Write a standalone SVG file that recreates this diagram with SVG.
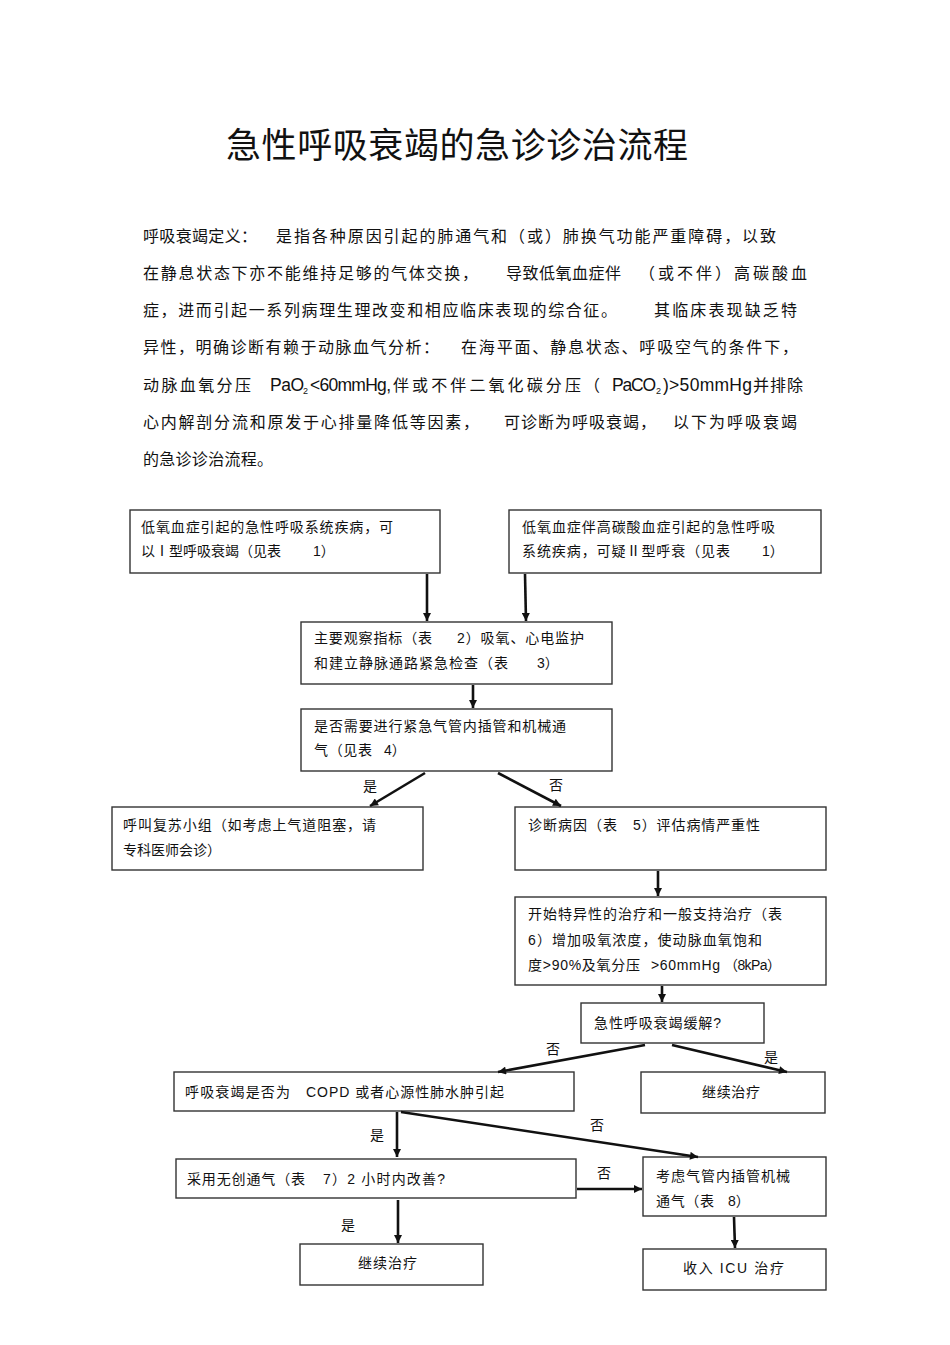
<svg xmlns="http://www.w3.org/2000/svg" width="950" height="1345" viewBox="0 0 950 1345">
<defs>
<marker id="ah" viewBox="0 0 10 10" refX="10" refY="5" markerWidth="9" markerHeight="8" markerUnits="userSpaceOnUse" orient="auto">
<path d="M0,0 L10,5 L0,10 z" fill="#111"/>
</marker>
</defs>
<style>
text{font-family:"Liberation Sans","Noto Sans CJK SC",sans-serif;fill:#111;}
.t{font-size:35px;}
.p{font-size:16px;}
.pl{font-size:17.5px;}
.b{font-size:14px;}
.lbl{font-size:14px;}
.sub{font-size:9px;}
rect{fill:#fff;stroke:#333;stroke-width:1.4;}
.c line{stroke:#111;stroke-width:2.6;marker-end:url(#ah);}
</style>
<rect x="0" y="0" width="950" height="1345" style="stroke:none;fill:#fff"/>
<g id="title"><text class="t" x="226" y="158" textLength="462">急性呼吸衰竭的急诊诊治流程</text></g>
<g id="definition">
<text class="p" x="143" y="242" textLength="114">呼吸衰竭定义：</text>
<text class="p" x="276" y="242" textLength="500">是指各种原因引起的肺通气和（或）肺换气功能严重障碍，以致</text>
<text class="p" x="143" y="279" textLength="335">在静息状态下亦不能维持足够的气体交换，</text>
<text class="p" x="506" y="279" textLength="115">导致低氧血症伴</text>
<text class="p" x="639" y="279" textLength="168">（或不伴）高碳酸血</text>
<text class="p" x="143" y="316" textLength="474">症，进而引起一系列病理生理改变和相应临床表现的综合征。</text>
<text class="p" x="654" y="316" textLength="143">其临床表现缺乏特</text>
<text class="p" x="143" y="353" textLength="296">异性，明确诊断有赖于动脉血气分析：</text>
<text class="p" x="461" y="353" textLength="337">在海平面、静息状态、呼吸空气的条件下，</text>
<text class="p" x="143" y="391" textLength="108">动脉血氧分压</text>
<text class="pl" x="270" y="391" textLength="34">PaO</text><text class="sub" x="303" y="394">2</text>
<text class="pl" x="310" y="391" textLength="81">&lt;60mmHg,</text>
<text class="p" x="393" y="391" textLength="207">伴或不伴二氧化碳分压（</text>
<text class="pl" x="612" y="391" textLength="44">PaCO</text><text class="sub" x="656" y="394">2</text>
<text class="pl" x="663" y="391" textLength="89">)&gt;50mmHg</text>
<text class="p" x="753" y="391" textLength="50">并排除</text>
<text class="p" x="143" y="428" textLength="336">心内解剖分流和原发于心排量降低等因素，</text>
<text class="p" x="504" y="428" textLength="152">可诊断为呼吸衰竭，</text>
<text class="p" x="673" y="428" textLength="124">以下为呼吸衰竭</text>
<text class="p" x="143" y="465" textLength="130">的急诊诊治流程。</text>
</g>
<g id="n1"><rect x="130" y="510" width="310" height="63"/>
<text class="b" x="141" y="532" textLength="252">低氧血症引起的急性呼吸系统疾病，可</text>
<text class="b" x="141" y="556" textLength="140">以Ⅰ型呼吸衰竭（见表</text><text class="b" x="313" y="556">1）</text></g>
<g id="n2"><rect x="509" y="510" width="312" height="63"/>
<text class="b" x="522" y="532" textLength="253">低氧血症伴高碳酸血症引起的急性呼吸</text>
<text class="b" x="522" y="556" textLength="208">系统疾病，可疑Ⅱ型呼衰（见表</text><text class="b" x="762" y="556">1）</text></g>
<g id="n3"><rect x="301" y="622" width="311" height="62"/>
<text class="b" x="314" y="643" textLength="118">主要观察指标（表</text><text class="b" x="457" y="643" textLength="127">2）吸氧、心电监护</text>
<text class="b" x="314" y="668" textLength="194">和建立静脉通路紧急检查（表</text><text class="b" x="537" y="668">3）</text></g>
<g id="n4"><rect x="301" y="709" width="311" height="62"/>
<text class="b" x="314" y="731" textLength="252">是否需要进行紧急气管内插管和机械通</text>
<text class="b" x="314" y="755" textLength="58">气（见表</text><text class="b" x="384" y="755">4）</text></g>
<g id="n5"><rect x="112" y="807" width="311" height="63"/>
<text class="b" x="123" y="830" textLength="253">呼叫复苏小组（如考虑上气道阻塞，请</text>
<text class="b" x="123" y="855" textLength="98">专科医师会诊）</text></g>
<g id="n6"><rect x="515" y="807" width="311" height="63"/>
<text class="b" x="528" y="830" textLength="89">诊断病因（表</text><text class="b" x="633" y="830" textLength="127">5）评估病情严重性</text></g>
<g id="n7"><rect x="515" y="897" width="311" height="88"/>
<text class="b" x="528" y="919" textLength="254">开始特异性的治疗和一般支持治疗（表</text>
<text class="b" x="528" y="945" textLength="234">6）增加吸氧浓度，使动脉血氧饱和</text>
<text class="b" x="528" y="970" textLength="112">度&gt;90%及氧分压</text><text class="b" x="651" y="970" textLength="69">&gt;60mmHg</text><text class="b" x="724" y="970" textLength="57">（8kPa）</text></g>
<g id="n8"><rect x="581" y="1003" width="183" height="40"/>
<text class="b" x="594" y="1028" textLength="127">急性呼吸衰竭缓解?</text></g>
<g id="n9"><rect x="174" y="1072" width="400" height="39"/>
<text class="b" x="185" y="1097" textLength="105">呼吸衰竭是否为</text><text class="b" x="306" y="1097" textLength="198">COPD 或者心源性肺水肿引起</text></g>
<g id="n10"><rect x="641" y="1072" width="184" height="41"/>
<text class="b" x="702" y="1097" textLength="58">继续治疗</text></g>
<g id="n11"><rect x="176" y="1159" width="400" height="39"/>
<text class="b" x="187" y="1184" textLength="118">采用无创通气（表</text><text class="b" x="323" y="1184" textLength="122">7）2 小时内改善?</text></g>
<g id="n12"><rect x="643" y="1157" width="183" height="59"/>
<text class="b" x="656" y="1181" textLength="134">考虑气管内插管机械</text>
<text class="b" x="656" y="1206" textLength="58">通气（表</text><text class="b" x="728" y="1206">8）</text></g>
<g id="n13"><rect x="300" y="1244" width="183" height="41"/>
<text class="b" x="358" y="1268" textLength="59">继续治疗</text></g>
<g id="n14"><rect x="643" y="1249" width="183" height="41"/>
<text class="b" x="683" y="1273" textLength="101">收入  ICU  治疗</text></g>
<g id="connectors" class="c">
<line x1="427" y1="574" x2="427" y2="621"/>
<line x1="525" y1="574" x2="526" y2="621"/>
<line x1="473" y1="685" x2="473" y2="708"/>
<line x1="425" y1="773" x2="370" y2="806"/>
<line x1="498" y1="773" x2="561" y2="806"/>
<line x1="658" y1="871" x2="658" y2="896"/>
<line x1="662" y1="986" x2="662" y2="1002"/>
<line x1="645" y1="1045" x2="498" y2="1072"/>
<line x1="672" y1="1045" x2="787" y2="1072"/>
<line x1="397" y1="1112" x2="397" y2="1157"/>
<line x1="401" y1="1112" x2="698" y2="1157"/>
<line x1="577" y1="1189" x2="642" y2="1189"/>
<line x1="398" y1="1200" x2="398" y2="1243"/>
<line x1="734" y1="1217" x2="735" y2="1248"/>
<text class="lbl" x="363" y="791">是</text>
<text class="lbl" x="549" y="790">否</text>
<text class="lbl" x="546" y="1054">否</text>
<text class="lbl" x="764" y="1062">是</text>
<text class="lbl" x="370" y="1140">是</text>
<text class="lbl" x="590" y="1130">否</text>
<text class="lbl" x="597" y="1178">否</text>
<text class="lbl" x="341" y="1230">是</text>
</g>
</svg>
